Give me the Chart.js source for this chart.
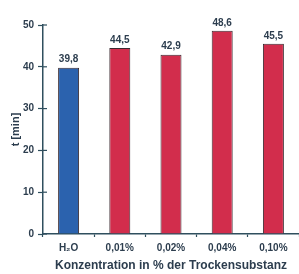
<!DOCTYPE html>
<html>
<head>
<meta charset="utf-8">
<script src="https://cdn.jsdelivr.net/npm/chart.js@4"></script>
<style>
  html, body { margin: 0; padding: 0; background: #fff; overflow: hidden; }
  #wrap { width: 299px; height: 274px; }
</style>
</head>
<body>
<div id="wrap"><canvas id="myChart" width="299" height="274"></canvas></div>
<script>
// data
var categories = ['H\u2082O', '0,01%', '0,02%', '0,04%', '0,10%'];
var times = [39.8, 44.5, 42.9, 48.6, 45.5];
var barColors = ['#2b62ae', '#d22d4c', '#d22d4c', '#d22d4c', '#d22d4c'];
var yTicks = [0, 10, 20, 30, 40, 50];

var ink = '#2c3d4e';
var axisColor = '#2f4f5e';

// value labels above the bars, comma decimal
var valueLabels = {
  id: 'valueLabels',
  afterDatasetsDraw: function(chart) {
    var ctx = chart.ctx;
    var meta = chart.getDatasetMeta(0);
    ctx.save();
    ctx.font = 'bold 10px "Liberation Sans", Arial, sans-serif';
    ctx.fillStyle = ink;
    ctx.textAlign = 'center';
    ctx.textBaseline = 'bottom';
    meta.data.forEach(function(bar, i) {
      ctx.fillText(times[i].toFixed(1).replace('.', ','), bar.x, bar.y - 3);
    });
    ctx.restore();
  }
};

// tick marks poke into the plot area as well
var innerTicks = {
  id: 'innerTicks',
  afterDraw: function(chart) {
    var ctx = chart.ctx;
    var y = chart.scales.y;
    ctx.save();
    ctx.strokeStyle = axisColor;
    ctx.lineWidth = 1.2;
    yTicks.forEach(function(v) {
      var py = y.getPixelForValue(v);
      ctx.beginPath();
      ctx.moveTo(y.right, py);
      ctx.lineTo(y.right + 4, py);
      ctx.stroke();
    });
    ctx.restore();
  }
};

var ctx = document.getElementById('myChart').getContext('2d');
new Chart(ctx, {
  type: 'bar',
  data: {
    labels: categories,
    datasets: [{
      data: times,
      backgroundColor: barColors,
      borderColor: '#3a2a30',
      borderWidth: 1,
      categoryPercentage: 1,
      barPercentage: 0.41
    }]
  },
  options: {
    responsive: false,
    animation: false,
    layout: { padding: { top: 25, right: 0, left: 0, bottom: 0 } },
    plugins: {
      legend: { display: false },
      tooltip: { enabled: false }
    },
    scales: {
      y: {
        min: 0,
        max: 50,
        afterFit: function(scale) { scale.width = 43; },
        ticks: {
          stepSize: 10,
          color: ink,
          padding: 4,
          font: { family: '"Liberation Sans", Arial, sans-serif', size: 10, weight: 'bold' }
        },
        grid: { drawOnChartArea: false, tickLength: 5, color: axisColor, tickWidth: 1.2 },
        border: { color: axisColor, width: 1.5 },
        title: {
          display: true,
          text: 't [min]',
          color: ink,
          padding: { top: 9, bottom: 0 },
          font: { family: '"Liberation Sans", Arial, sans-serif', size: 11, weight: 'bold' }
        }
      },
      x: {
        afterFit: function(scale) { scale.height = 40; },
        ticks: {
          color: ink,
          padding: 5,
          font: { family: '"Liberation Sans", Arial, sans-serif', size: 10, weight: 'bold' }
        },
        grid: { drawOnChartArea: false, tickLength: 3, color: axisColor, tickWidth: 1.2 },
        border: { color: axisColor, width: 1.5 },
        title: {
          display: true,
          text: 'Konzentration in % der Trockensubstanz',
          color: ink,
          padding: { top: 0, bottom: 1 },
          font: { family: '"Liberation Sans", Arial, sans-serif', size: 12, weight: 'bold' }
        }
      }
    }
  },
  plugins: [valueLabels, innerTicks]
});
</script>
</body>
</html>
